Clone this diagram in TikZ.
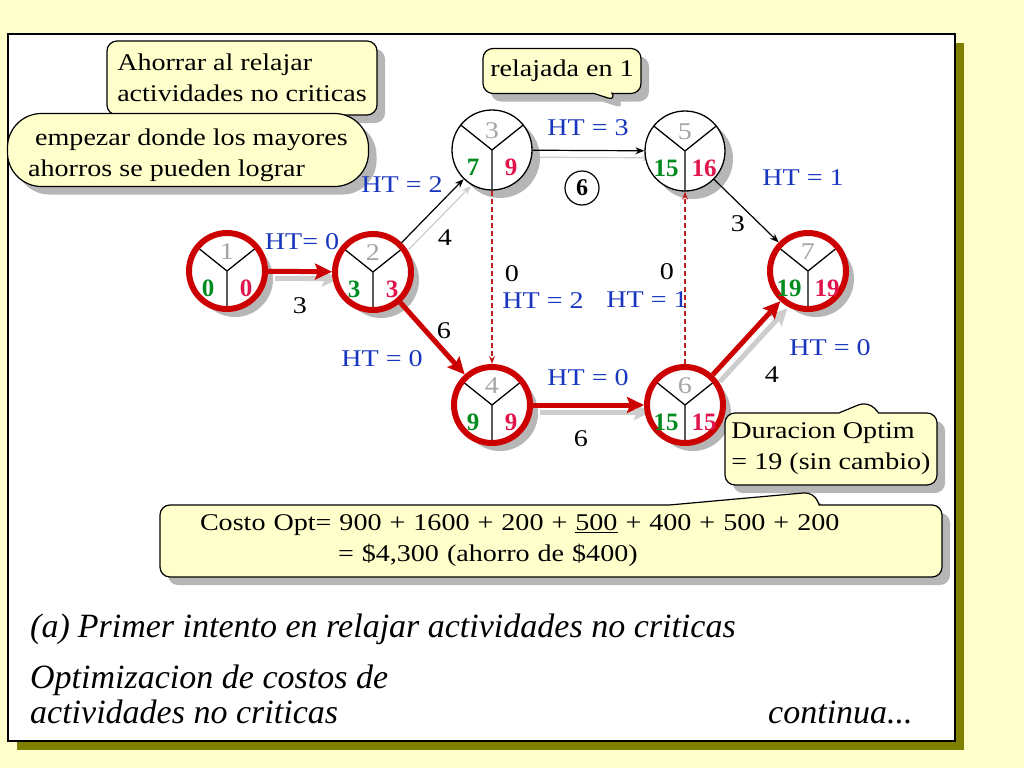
\documentclass[tikz,border=0pt]{standalone}
\usepackage{fontspec}
\setmainfont{Liberation Serif}
\newfontfamily\ancha[FakeStretch=1.17]{Liberation Serif}
\usepackage{tikz}
\usetikzlibrary{arrows.meta}
\usetikzlibrary{shapes.callouts}
\usetikzlibrary{shadows}

\definecolor{fondo}{RGB}{255,255,204}
\definecolor{oliva}{RGB}{128,128,0}
\definecolor{sombra}{RGB}{182,182,182}
\definecolor{sombraflecha}{RGB}{205,205,205}
\definecolor{azul}{RGB}{25,55,190}
\definecolor{verde}{RGB}{0,140,30}
\definecolor{rojonum}{RGB}{225,20,75}
\definecolor{anillo}{RGB}{204,0,0}
\definecolor{grisnum}{RGB}{165,165,165}
\definecolor{punteada}{RGB}{190,30,30}

\pgfdeclarelayer{fondocapa}
\pgfdeclarelayer{sombracapa}
\pgfsetlayers{fondocapa,sombracapa,main}

\tikzset{evento/.style={ % nodo de la red, con la Y interior
           circle, draw, line width=1.3pt, fill=white,
           minimum size=80pt, inner sep=0pt,
           drop shadow={shadow xshift=8pt, shadow yshift=-8pt, fill=sombra, opacity=1},
           path picture={\draw[black, line width=1.3pt]
             (path picture bounding box.center) -- +(-45,-36)
             (path picture bounding box.center) -- +(45,-36)
             (path picture bounding box.center) -- +(0,45);}},
         critico/.style={evento, draw=anillo, line width=6pt, minimum size=76pt},
         numid/.style={text=grisnum, inner sep=0pt},
         pronto/.style={text=verde, font=\rmfamily\bfseries\fontsize{25}{25}\selectfont, inner sep=0pt},
         tardio/.style={text=rojonum, font=\rmfamily\bfseries\fontsize{25}{25}\selectfont, inner sep=0pt},
         ht/.style={text=azul, inner sep=1pt},
         dura/.style={text=black, inner sep=1pt},
         critica/.style={draw=anillo, line width=5pt, -{Stealth[length=17pt, width=16pt, inset=3pt]}},
         normal/.style={draw=black, line width=1.2pt, -{Stealth[length=9pt, width=7pt]}},
         holgura/.style={draw=punteada, line width=1.2pt, dash pattern=on 5pt off 3pt,
           -{Stealth[length=8pt, width=6pt]}},
         nota/.style={draw=black, line width=1.2pt, fill=fondo, rounded corners=10pt,
           align=left, inner ysep=2pt,
           drop shadow={shadow xshift=8pt, shadow yshift=-8pt, fill=sombra, opacity=1}},
         titulo/.style={anchor=base west, inner sep=0pt,
           font=\fontsize{34}{34}\selectfont\itshape}}

\begin{document}
\begin{tikzpicture}[x=1pt, y=-1pt, font=\ancha\fontsize{24}{31}\selectfont]
\useasboundingbox (0,0) rectangle (1024,768);

% lamina
\begin{pgfonlayer}{fondocapa}
    \fill[fondo] (0,0) rectangle (1024,768);
    \fill[oliva] (17,43) rectangle (964,750);
    \draw[fill=white, line width=1.2pt] (8,34) rectangle (955,741);
\end{pgfonlayer}

\node[critico] (n1) at (227,271) {};
\node[critico] (n2) at (373,272) {};
\node[evento]  (n3) at (492,150) {};
\node[critico] (n4) at (492,405) {};
\node[evento]  (n5) at (685,151) {};
\node[critico] (n6) at (685,405) {};
\node[critico] (n7) at (808,271) {};

\foreach \n/\i/\e/\l in {n1/1/0/0, n2/2/3/3, n3/3/7/9, n4/4/9/9,
                         n5/5/15/16, n6/6/15/15, n7/7/19/19}{
    \node[numid]  (i\n) at ([yshift=19pt]\n.center) {\i};
    \node[pronto] (e\n) at ([xshift=-19pt,yshift=-17pt]\n.center) {\e};
    \node[tardio] (l\n) at ([xshift=19pt,yshift=-17pt]\n.center) {\l};
}

% sombras de las flechas
\begin{pgfonlayer}{sombracapa}
\begin{scope}[transform canvas={xshift=7pt, yshift=-7pt}]
    \path (n1) edge[critica, draw=sombraflecha] (n2);
    \path (n4) edge[critica, draw=sombraflecha] (n6);
    \path (n6) edge[critica, draw=sombraflecha] (n7);
    \path (n2) edge[normal, draw=sombraflecha] (n3);
    \path (n3) edge[normal, draw=sombraflecha] (n5);
\end{scope}
\end{pgfonlayer}

\path (n1) edge[critica] (n2);
\path (n2) edge[critica] (n4);
\path (n4) edge[critica] (n6);
\path (n6) edge[critica] (n7);
\path (n2) edge[normal] (n3);
\path (n3) edge[normal] (n5);
\path (n5) edge[normal] (n7);
\path (n3) edge[holgura] (n4);
\path (n6) edge[holgura] (n5);

% notas
\node[nota, minimum width=270pt, minimum height=74pt] (ahorrar) at (242,78)
    {Ahorrar al relajar\\actividades no criticas};
\node[nota, rounded corners=34pt, minimum width=361pt, minimum height=73pt,
      text height=59pt] (empezar) at (188,150)
    {\hspace*{7pt}empezar donde los mayores\\ahorros se pueden lograr};
\node[nota, rectangle callout, callout absolute pointer={(617,101)}, callout pointer width=18pt,
      minimum width=158pt, minimum height=45pt, align=center] (relajada) at (562,71)
    {relajada en 1};
\node[nota, rectangle callout, callout absolute pointer={(868,401)}, callout pointer width=40pt,
      minimum width=212pt, minimum height=72pt] (duracion) at (831,449)
    {Duracion Optim\\= 19 (sin cambio)};
\node[nota, rectangle callout, callout absolute pointer={(814,492)}, callout pointer width=150pt,
      text width=702pt, inner xsep=40pt, minimum height=72pt] (costo) at (551,541)
    {Costo Opt= 900 + 1600 + 200 + \underline{500} + 400 + 500 + 200\\
     \hspace*{138pt}= \$4,300 (ahorro de \$400)};

\node[ht]   (h12) at (302,242) {HT= 0};
\node[dura] (d12) at (300,306) {3};
\node[ht]   (h23) at (402,185) {HT = 2};
\node[dura] (d23) at (445,238) {4};
\node[dura] (d24) at (444,331) {6};
\node[ht]   (h24) at (382,359) {HT = 0};
\node[ht]   (h35) at (588,128) {HT = 3};
\node[circle, draw, line width=1.2pt, minimum size=34pt, inner sep=0pt,
      font=\rmfamily\bfseries\fontsize{24}{24}\selectfont] (c6) at (582,188) {6};
\node[dura] (d34) at (512,274) {0};
\node[ht]   (h34) at (543,301) {HT = 2};
\node[dura] (d65) at (667,272) {0};
\node[ht]   (h65) at (647,300) {HT = 1};
\node[ht]   (h46) at (588,378) {HT = 0};
\node[dura] (d46) at (581,439) {6};
\node[dura] (d57) at (738,224) {3};
\node[ht]   (h57) at (803,178) {HT = 1};
\node[ht]   (h67) at (830,348) {HT = 0};
\node[dura] (d67) at (772,375) {4};

\node[titulo] (parte)   at (30,637) {(a)\hspace{8pt}Primer intento en relajar actividades no criticas};
\node[titulo] (optim1)  at (30,688) {Optimizacion de costos de};
\node[titulo] (optim2)  at (30,723) {actividades no criticas};
\node[titulo] (sigue)   at (768,723) {continua...};
\end{tikzpicture}
\end{document}
